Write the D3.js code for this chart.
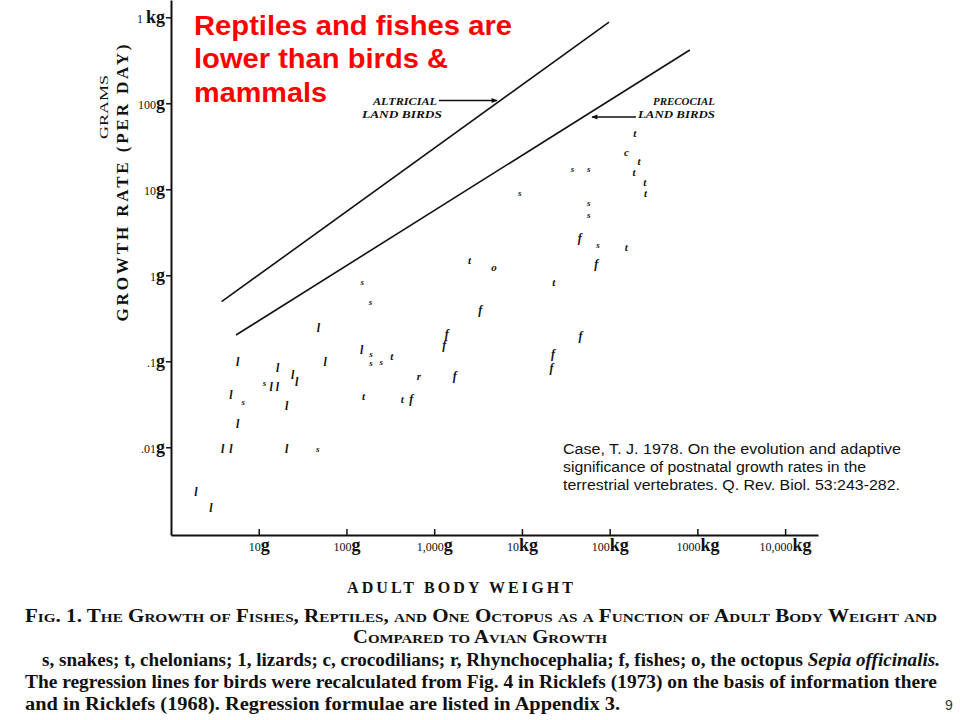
<!DOCTYPE html>
<html>
<head>
<meta charset="utf-8">
<script src="https://cdn.jsdelivr.net/npm/d3@7"></script>
<style>
  body { margin: 0; background: #fff; }
</style>
</head>
<body>
<svg id="chart" width="960" height="720"></svg>
<script>
let snakes = [[151,0.83],[188,0.485],[191,0.123],[191,0.096],[249,0.099],[11.6,0.056],[6.67,0.034],[47,0.0097],
              [37600,17.2],[57700,17.2],[9420,9.1],[57700,6.9],[57700,5.1],[73700,2.28]];
let chelonians = [[329,0.115],[157,0.039],[432,0.036],[2530,1.48],[193000,45.5],[216000,21.3],[190000,15.8],
                  [251000,12.1],[256000,8.98],[155000,2.12],[23000,0.83]];
let lizards = [[47.9,0.242],[5.74,0.099],[149,0.135],[57.1,0.099],[16.4,0.085],[24.4,0.069],[27.1,0.057],[13.9,0.051],
               [16.3,0.051],[4.83,0.041],[20.8,0.030],[5.74,0.019],[3.87,0.0095],[4.83,0.0095],[20.8,0.0095],
               [1.92,0.0030],[2.86,0.0020]];
let crocodilians = [[155000,26.7]];
let rhynchocephalia = [[668,0.068]];
let fishes = [[547,0.037],[3350,0.40],[1390,0.207],[1300,0.155],[1710,0.068],[45600,2.74],[70300,1.37],
              [46400,0.199],[22600,0.122],[21700,0.085]];
let octopus = [[4790,1.24]];

// bird regression lines (end points)
let altricial = [[3.77,0.493],[98400,881]];
let precocial = [[5.51,0.202],[820000,417]];

let xTickVals = [10,1e2,1e3,1e4,1e5,1e6,1e7];
let xTickNum = ['10','100','1,000','10','100','1000','10,000'];
let xTickUnit = ['g','g','g','kg','kg','kg','kg'];
let yTickVals = [0.01,0.1,1,10,100,1000];
let yTickNum = ['.01','.1','1','10','100','1 '];
let yTickUnit = ['g','g','g','g','g','kg'];

let svg = d3.select('#chart');
svg.append('rect').attr('width',960).attr('height',720).attr('fill','#fff');

let serif = '"Liberation Serif", "DejaVu Serif", serif';
let sans = '"Liberation Sans", Arial, sans-serif';

let x = d3.scaleLog().domain([1, 2.37e7]).range([171, 818]);
let y = d3.scaleLog().domain([0.000955, 1589]).range([535, 0]);

svg.append('defs').append('marker')
    .attr('id','arrow').attr('viewBox','0 0 10 10')
    .attr('refX',9).attr('refY',5)
    .attr('markerWidth',7).attr('markerHeight',6)
    .attr('markerUnits','userSpaceOnUse')
    .attr('orient','auto')
  .append('path').attr('d','M0,1L10,5L0,9Z').attr('fill','#111');

// axes
let gx = svg.append('g')
    .attr('transform','translate(0,535)')
    .call(d3.axisBottom(x).tickValues(xTickVals).tickSize(-6).tickSizeOuter(0));
gx.select('.domain').attr('stroke','#111').attr('stroke-width',2);
gx.selectAll('.tick line').attr('stroke','#111').attr('stroke-width',1.5);
gx.selectAll('.tick text')
    .text(null).attr('y',16).attr('dy',0)
    .attr('fill','#111').attr('font-family',serif)
    .each(function(d,i){
        let t = d3.select(this);
        t.append('tspan').attr('font-size',12).text(xTickNum[i]);
        t.append('tspan').attr('font-size',18).attr('font-weight','bold').text(xTickUnit[i]);
    });

let gy = svg.append('g')
    .attr('transform','translate(171,0)')
    .call(d3.axisLeft(y).tickValues(yTickVals).tickSize(5).tickSizeOuter(0));
gy.select('.domain').attr('stroke','#111').attr('stroke-width',2);
gy.selectAll('.tick line').attr('stroke','#111').attr('stroke-width',1.5);
gy.selectAll('.tick text')
    .text(null).attr('x',-6).attr('y',5).attr('dy',0)
    .attr('fill','#111').attr('font-family',serif)
    .each(function(d,i){
        let t = d3.select(this);
        t.append('tspan').attr('font-size',12).text(yTickNum[i]);
        t.append('tspan').attr('font-size',18).attr('font-weight','bold').text(yTickUnit[i]);
    });

// axis titles
svg.append('text')
    .attr('transform','translate(128,183) rotate(-90)')
    .attr('text-anchor','middle')
    .attr('font-family',serif).attr('font-weight','bold').attr('font-size',17)
    .attr('textLength',277).attr('lengthAdjust','spacing')
    .attr('fill','#111')
    .text('GROWTH  RATE  (PER  DAY)');
svg.append('text')
    .attr('transform','translate(108,107) rotate(-90)')
    .attr('text-anchor','middle')
    .attr('font-family',serif).attr('font-size',13)
    .attr('textLength',64).attr('lengthAdjust','spacingAndGlyphs')
    .attr('fill','#111')
    .text('GRAMS');
svg.append('text')
    .attr('x',460).attr('y',593)
    .attr('text-anchor','middle')
    .attr('font-family',serif).attr('font-weight','bold').attr('font-size',16)
    .attr('textLength',226).attr('lengthAdjust','spacing')
    .attr('fill','#111')
    .text('ADULT  BODY  WEIGHT');

// regression lines
let line = d3.line().x(d => x(d[0])).y(d => y(d[1]));
[altricial, precocial].forEach(function(l){
    svg.append('path').attr('d', line(l))
        .attr('fill','none').attr('stroke','#111').attr('stroke-width',1.6);
});

// line labels
function label(txt, lx, ly, len){
    svg.append('text').attr('x',lx).attr('y',ly)
        .attr('font-family',serif).attr('font-style','italic').attr('font-weight','bold')
        .attr('font-size',10).attr('fill','#111')
        .attr('textLength',len).attr('lengthAdjust','spacingAndGlyphs')
        .text(txt);
}
label('ALTRICIAL', 373, 105, 64);
label('LAND   BIRDS', 362, 118, 80);
label('PRECOCIAL', 653, 105, 62);
label('LAND   BIRDS', 638, 118, 77);
svg.append('line').attr('x1',439).attr('y1',100.5).attr('x2',497).attr('y2',100.5)
    .attr('stroke','#111').attr('stroke-width',1.3).attr('marker-end','url(#arrow)');
svg.append('line').attr('x1',636).attr('y1',117).attr('x2',592).attr('y2',117)
    .attr('stroke','#111').attr('stroke-width',1.3).attr('marker-end','url(#arrow)');

// data letters
let groups = [
    {letter:'s', size:9, data:snakes},
    {letter:'t', size:11, data:chelonians},
    {letter:'l', size:12, data:lizards},
    {letter:'c', size:11, data:crocodilians},
    {letter:'r', size:11, data:rhynchocephalia},
    {letter:'f', size:12, data:fishes},
    {letter:'o', size:11, data:octopus}
];
groups.forEach(function(g){
    svg.append('g').selectAll('text')
        .data(g.data)
        .enter().append('text')
        .attr('x', d => x(d[0]))
        .attr('y', d => y(d[1]))
        .attr('dy','0.35em')
        .attr('text-anchor','middle')
        .attr('font-family',serif).attr('font-style','italic').attr('font-weight','bold')
        .attr('font-size',g.size).attr('fill','#111')
        .text(g.letter);
});

// red headline
let red = ['Reptiles and fishes are','lower than birds &','mammals'];
let redLen = [318, 254, 133];
red.forEach(function(t,i){
    svg.append('text').attr('x',194).attr('y',35 + i*33.3)
        .attr('font-family',sans).attr('font-weight','bold').attr('font-size',27)
        .attr('fill','#ff0000')
        .attr('textLength',redLen[i]).attr('lengthAdjust','spacingAndGlyphs')
        .text(t);
});

// citation
let cite = ['Case, T. J. 1978. On the evolution and adaptive',
            'significance of postnatal growth rates in the',
            'terrestrial vertebrates. Q. Rev. Biol. 53:243-282.'];
let citeLen = [338, 303, 337];
cite.forEach(function(t,i){
    svg.append('text').attr('x',563).attr('y',454 + i*18)
        .attr('font-family',sans).attr('font-size',14).attr('fill','#111')
        .attr('textLength',citeLen[i]).attr('lengthAdjust','spacingAndGlyphs')
        .text(t);
});

// figure caption
function capLine(txt, cx, cy, len, opts){
    let t = svg.append('text').attr('x',cx).attr('y',cy)
        .attr('font-family',serif).attr('font-size',18).attr('font-weight','bold')
        .attr('fill','#111')
        .attr('textLength',len).attr('lengthAdjust','spacingAndGlyphs');
    if (opts && opts.caps) t.style('font-variant','small-caps');
    if (opts && opts.anchor) t.attr('text-anchor',opts.anchor);
    return t.text(txt);
}
capLine('Fig. 1. The Growth of Fishes, Reptiles, and One Octopus as a Function of Adult Body Weight and', 25, 622, 912, {caps:true});
capLine('Compared to Avian Growth', 480, 643, 254, {caps:true, anchor:'middle'});
let l3 = capLine('', 42, 666, 898);
l3.append('tspan').text('s, snakes; t, chelonians; 1, lizards; c, crocodilians; r, Rhynchocephalia; f, fishes; o, the octopus ');
l3.append('tspan').attr('font-style','italic').text('Sepia officinalis.');
capLine('The regression lines for birds were recalculated from Fig. 4 in Ricklefs (1973) on the basis of information there', 25, 688, 912);
capLine('and in Ricklefs (1968). Regression formulae are listed in Appendix 3.', 25, 710, 595);

svg.append('text').attr('x',945).attr('y',710)
    .attr('font-family',sans).attr('font-size',14).attr('fill','#333')
    .text('9');
</script>
</body>
</html>
